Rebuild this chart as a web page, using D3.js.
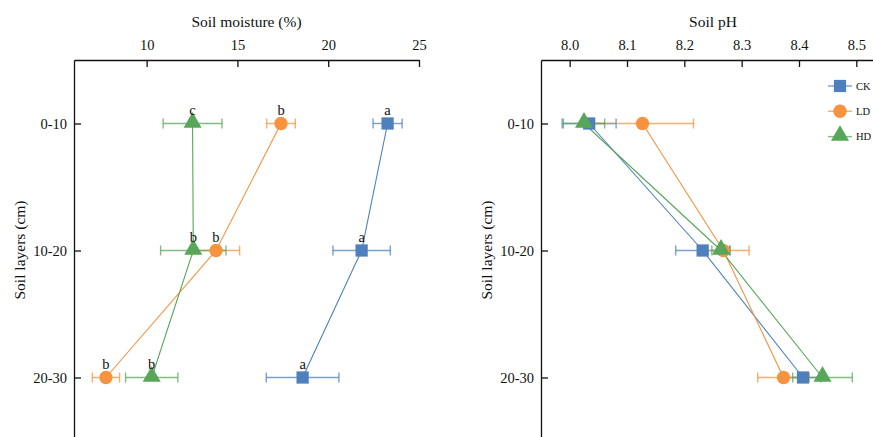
<!DOCTYPE html>
<html>
<head>
<meta charset="utf-8">
<script src="https://cdn.jsdelivr.net/npm/d3@7"></script>
<style>
  body { margin: 0; background: #fff; }
  text { font-family: "Liberation Serif", "DejaVu Serif", serif; fill: #111; }
</style>
</head>
<body>
<svg id="chart"></svg>
<script>
// chart size
var width = 873;
var height = 437;

// data
var layers = ['0-10', '10-20', '20-30'];
var groups = ['CK', 'LD', 'HD'];
var colors = ['#4d80bd', '#f7923e', '#58a65a'];

// soil moisture (%)
var moistCK = [23.27, 21.84, 18.59];
var moistCKErr = [0.8, 1.58, 2.0];
var moistLD = [17.4, 13.82, 7.76];
var moistLDErr = [0.79, 1.3, 0.75];
var moistHD = [12.53, 12.57, 10.28];
var moistHDErr = [1.62, 1.8, 1.44];
var lettersCK = ['a', 'a', 'a'];
var lettersLD = ['b', 'b', 'b'];
var lettersHD = ['c', 'b', 'b'];

// soil pH
var phCK = [8.034, 8.232, 8.407];
var phCKErr = [0.047, 0.047, 0.031];
var phLD = [8.127, 8.268, 8.373];
var phLDErr = [0.089, 0.045, 0.045];
var phHD = [8.025, 8.264, 8.441];
var phHDErr = [0.036, 0.016, 0.052];

var moistTicks = [10, 15, 20, 25];
var phTicks = [8.0, 8.1, 8.2, 8.3, 8.4, 8.5];

var svg = d3.select('#chart')
  .attr('width', width)
  .attr('height', height);

var axisTop = 60; // y of the top axis line
var serif = 'Liberation Serif, DejaVu Serif, serif';

// shared vertical scale
var scaleY = d3.scalePoint()
  .domain(layers)
  .range([axisTop, 441])
  .padding(0.5);

function symbolFor(i) {
  return [d3.symbolSquare, d3.symbolCircle, d3.symbolTriangle][i];
}
var symbolSize = [150, 140, 140];

function styleAxis(a) {
  a.attr('font-family', serif).attr('font-size', 14.5);
  a.select('.domain').attr('stroke', '#111').attr('stroke-width', 1.3);
  a.selectAll('.tick line').attr('stroke', '#111').attr('stroke-width', 1.3);
  a.selectAll('.tick text').attr('fill', '#111');
}

function drawPanel(opt) {
  var g = svg.append('g');
  var x = opt.scale;
  var x0 = x.range()[0];

  // top axis (ticks pointing in)
  g.append('g')
    .attr('transform', 'translate(0,' + axisTop + ')')
    .call(d3.axisTop(x).tickValues(opt.ticks).tickFormat(opt.format)
      .tickSizeInner(-7).tickSizeOuter(0).tickPadding(10))
    .call(styleAxis);

  // left axis
  g.append('g')
    .attr('transform', 'translate(' + x0 + ',0)')
    .call(d3.axisLeft(scaleY).tickSizeInner(-7).tickSizeOuter(0).tickPadding(7))
    .call(styleAxis);

  // titles
  g.append('text')
    .attr('x', (x.range()[0] + x.range()[1]) / 2)
    .attr('y', 27)
    .style('text-anchor', 'middle')
    .style('font-size', '15.5px')
    .text(opt.title);

  g.append('text')
    .attr('transform', 'rotate(-90)')
    .attr('x', -250)
    .attr('y', x0 - 54)
    .attr('dy', '0.35em')
    .style('text-anchor', 'middle')
    .style('font-size', '15.5px')
    .text('Soil layers (cm)');

  var series = opt.series;

  // lines
  series.forEach(function(s, i) {
    var line = d3.line()
      .x(d => x(d))
      .y((d, j) => scaleY(layers[j]));
    g.append('path')
      .datum(s.values)
      .attr('d', line)
      .attr('fill', 'none')
      .attr('stroke', colors[i])
      .attr('stroke-width', 1.1);
  });

  // error bars
  series.forEach(function(s, i) {
    var eg = g.append('g')
      .attr('stroke', colors[i])
      .attr('stroke-opacity', 0.75)
      .attr('stroke-width', 1.4);
    s.values.forEach(function(v, j) {
      var y = scaleY(layers[j]);
      var lo = x(v - s.err[j]), hi = x(v + s.err[j]);
      eg.append('line').attr('x1', lo).attr('x2', hi).attr('y1', y).attr('y2', y);
      eg.append('line').attr('x1', lo).attr('x2', lo).attr('y1', y - 5).attr('y2', y + 5);
      eg.append('line').attr('x1', hi).attr('x2', hi).attr('y1', y - 5).attr('y2', y + 5);
    });
  });

  // markers
  series.forEach(function(s, i) {
    g.selectAll('.m' + i)
      .data(s.values)
      .enter()
      .append('path')
        .attr('d', d3.symbol().type(symbolFor(i)).size(symbolSize[i]))
        .attr('transform', (d, j) => 'translate(' + x(d) + ',' + (scaleY(layers[j]) + (i === 2 ? -1 : 0)) + ')')
        .attr('fill', colors[i]);
  });

  // significance letters
  series.forEach(function(s, i) {
    if (!s.letters) return;
    g.selectAll('.l' + i)
      .data(s.values)
      .enter()
      .append('text')
        .attr('x', d => x(d))
        .attr('y', (d, j) => scaleY(layers[j]) - 9)
        .style('text-anchor', 'middle')
        .style('font-size', '14.5px')
        .text((d, j) => s.letters[j]);
  });
}

// left panel: soil moisture
var scaleMoist = d3.scaleLinear().domain([6, 25]).range([74, 419]);
drawPanel({
  scale: scaleMoist,
  ticks: moistTicks,
  format: d3.format('d'),
  title: 'Soil moisture (%)',
  series: [
    { values: moistCK, err: moistCKErr, letters: lettersCK },
    { values: moistLD, err: moistLDErr, letters: lettersLD },
    { values: moistHD, err: moistHDErr, letters: lettersHD }
  ]
});

// right panel: soil pH
var scalePH = d3.scaleLinear().domain([7.95, 8.55]).range([541, 885]);
drawPanel({
  scale: scalePH,
  ticks: phTicks,
  format: d3.format('.1f'),
  title: 'Soil pH',
  series: [
    { values: phCK, err: phCKErr },
    { values: phLD, err: phLDErr },
    { values: phHD, err: phHDErr }
  ]
});

// legend
var legend = svg.append('g');
groups.forEach(function(name, i) {
  var y = 86 + i * 25.3;
  legend.append('line')
    .attr('x1', 828).attr('x2', 852)
    .attr('y1', y).attr('y2', y)
    .attr('stroke', colors[i])
    .attr('stroke-opacity', 0.75)
    .attr('stroke-width', 1.4);
  legend.append('path')
    .attr('d', d3.symbol().type(symbolFor(i)).size(symbolSize[i]))
    .attr('transform', 'translate(840,' + (y + (i === 2 ? -1 : 0)) + ')')
    .attr('fill', colors[i]);
  legend.append('text')
    .attr('x', 856)
    .attr('y', y)
    .attr('dy', '0.35em')
    .style('font-size', '10.5px')
    .text(name);
});
</script>
</body>
</html>
